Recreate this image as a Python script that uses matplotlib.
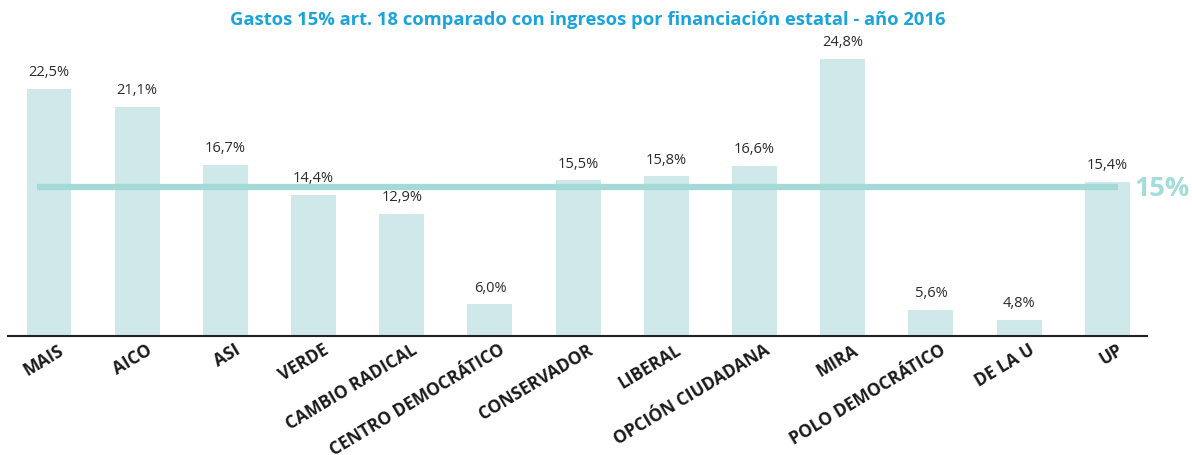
import matplotlib
matplotlib.use("Agg")
import matplotlib.pyplot as plt
import matplotlib.transforms as mtrans
import numpy as np

categories = ["MAIS", "AICO", "ASI", "VERDE", "CAMBIO RADICAL", "CENTRO DEMOCRÁTICO",
              "CONSERVADOR", "LIBERAL", "OPCIÓN CIUDADANA", "MIRA", "POLO DEMOCRÁTICO",
              "DE LA U", "UP"]
values = [22.5, 21.1, 16.7, 14.4, 12.9, 6.0, 15.5, 15.8, 16.6, 24.8, 5.6, 4.8, 15.4]
value_labels = ["22,5%", "21,1%", "16,7%", "14,4%", "12,9%", "6,0%", "15,5%", "15,8%",
                "16,6%", "24,8%", "5,6%", "4,8%", "15,4%"]
threshold = 15.0
threshold_label = "15%"
title = "Gastos 15% art. 18 comparado con ingresos por financiación estatal - año 2016"

W, H = 1192, 456
fig = plt.figure(figsize=(W / 100, H / 100), dpi=100)
left, right, bottom, top = 8, 1147, 337, 40
ax = fig.add_axes([left / W, (H - bottom) / H, (right - left) / W, (bottom - top) / H])

x = np.arange(len(categories))
ax.bar(x, values, width=0.51, color="#cfe9ea", zorder=1)
ax.plot([-0.136, 12.12], [threshold, threshold], color="#a3d9d6", lw=4.5,
        solid_capstyle="butt", zorder=3)
ax.text(12.31, threshold - 0.1, threshold_label, color="#a3dcd8", fontsize=19.5, fontweight="bold",
        family="Open Sans", va="center", ha="left", clip_on=False)

for xi, v, lab in zip(x, values, value_labels):
    ax.text(xi, v + 0.75, lab, ha="center", va="bottom", fontsize=10.5, color="#2b2b2b",
            family="Open Sans")

ax.set_xlim(-0.465, 12.45)
ax.set_ylim(3.57, 26.33)
for s in ["top", "right", "left"]:
    ax.spines[s].set_visible(False)
ax.spines["bottom"].set_color("#222222")
ax.spines["bottom"].set_linewidth(1.5)
ax.set_yticks([])
ax.set_xticks(x)
ax.set_xticklabels(categories, rotation=31, ha="right", rotation_mode="anchor",
                   fontsize=12.5, fontweight="bold", family="Open Sans", color="#1a1a1a")
ax.tick_params(axis="x", length=0, pad=3)
offset = mtrans.ScaledTranslation(9 / 100, 0, fig.dpi_scale_trans)
for lbl in ax.get_xticklabels():
    lbl.set_transform(lbl.get_transform() + offset)

fig.text(588 / W, 1 - 20 / H, title, ha="center", va="center", color="#1ba3dc",
         fontsize=13.2, fontweight="bold", family="Open Sans")

fig.savefig("out.png", dpi=100)
